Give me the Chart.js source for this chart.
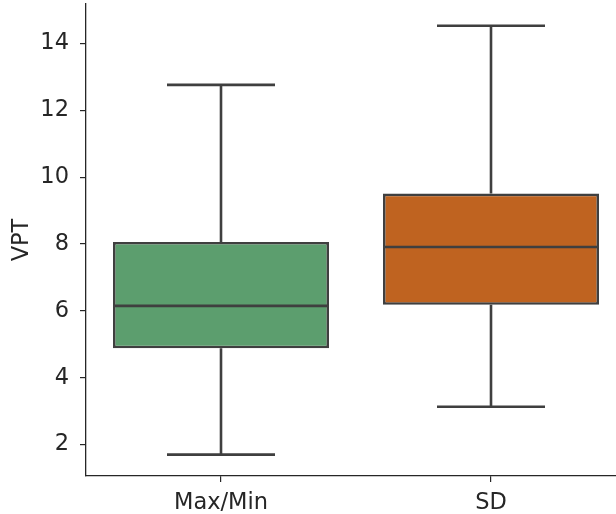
<!DOCTYPE html>
<html>
<head>
<meta charset="utf-8">
<script src="https://cdn.jsdelivr.net/npm/chart.js@4"></script>
<style>
html, body { margin: 0; padding: 0; background: #ffffff; overflow: hidden; }
#wrap { width: 616px; height: 514px; overflow: hidden; position: relative; }
canvas { display: block; }
</style>
</head>
<body>
<div id="wrap"><canvas id="c" width="626" height="514"></canvas></div>
<script>
const categories = ['Max/Min', 'SD'];
const whiskerLow = [1.70, 3.13];
const q1 = [4.88, 6.18];
const median = [6.15, 7.91];
const q3 = [8.06, 9.51];
const whiskerHigh = [12.76, 14.53];
const yTicks = [2, 4, 6, 8, 10, 12, 14];
const boxColors = ['#5c9e6e', '#bf6320'];
const yLabel = 'VPT';

const LINE = '#3f3f3f';
const TEXT = '#262626';
const FONT = 'DejaVu Sans';
const FSIZE = 22.5;

const boxPlugin = {
  id: 'boxParts',
  afterDatasetsDraw(chart) {
    const xs = chart.scales.x, ys = chart.scales.y;
    const meta = chart.getDatasetMeta(0);
    const ctx = chart.ctx;
    ctx.save();
    ctx.strokeStyle = LINE;
    ctx.lineWidth = 2.6;
    ctx.lineCap = 'butt';
    categories.forEach((c, i) => {
      const bar = meta.data[i];
      const x = xs.getPixelForValue(i);
      const half = bar.width / 2;
      const capHalf = bar.width / 4;
      const yLo = ys.getPixelForValue(whiskerLow[i]);
      const yHi = ys.getPixelForValue(whiskerHigh[i]);
      const yQ1 = ys.getPixelForValue(q1[i]);
      const yQ3 = ys.getPixelForValue(q3[i]);
      const yMed = ys.getPixelForValue(median[i]);
      ctx.beginPath();
      ctx.moveTo(x, yQ1); ctx.lineTo(x, yLo);
      ctx.moveTo(x, yQ3); ctx.lineTo(x, yHi);
      ctx.moveTo(x - capHalf, yLo); ctx.lineTo(x + capHalf, yLo);
      ctx.moveTo(x - capHalf, yHi); ctx.lineTo(x + capHalf, yHi);
      ctx.moveTo(x - half, yMed); ctx.lineTo(x + half, yMed);
      ctx.stroke();
    });
    ctx.restore();
  }
};

new Chart(document.getElementById('c'), {
  type: 'bar',
  data: {
    labels: categories,
    datasets: [{
      data: categories.map((c, i) => [q1[i], q3[i]]),
      backgroundColor: boxColors,
      borderColor: LINE,
      borderWidth: 2.6,
      borderSkipped: false,
      categoryPercentage: 0.8,
      barPercentage: 1.0
    }]
  },
  options: {
    responsive: false,
    devicePixelRatio: 1,
    animation: false,
    layout: { padding: { top: 4, right: 0, left: 0, bottom: 0 } },
    plugins: { legend: { display: false }, tooltip: { enabled: false } },
    scales: {
      x: {
        type: 'category',
        offset: true,
        grid: { display: true, offset: false, drawOnChartArea: false, drawTicks: true, tickLength: 6, color: TEXT, lineWidth: 1.2 },
        border: { display: true, color: TEXT, width: 1.3 },
        ticks: { color: TEXT, font: { family: FONT, size: FSIZE }, padding: 8, maxRotation: 0 },
        afterFit(scale) { scale.height = 38; scale.paddingLeft = 0; scale.paddingRight = 0; }
      },
      y: {
        type: 'linear',
        min: 1.06,
        max: 15.18,
        grid: { display: true, drawOnChartArea: false, drawTicks: true, tickLength: 6, color: TEXT, lineWidth: 1.2 },
        border: { display: true, color: TEXT, width: 1.3 },
        ticks: { color: TEXT, font: { family: FONT, size: FSIZE }, padding: 11 },
        afterBuildTicks(scale) { scale.ticks = yTicks.map(v => ({ value: v })); },
        title: { display: true, text: yLabel, color: TEXT, font: { family: FONT, size: FSIZE }, padding: { top: 9, bottom: 0 } },
        afterFit(scale) { scale.width = 86; scale.paddingTop = 0; scale.paddingBottom = 0; }
      }
    }
  },
  plugins: [boxPlugin]
});
</script>
</body>
</html>
